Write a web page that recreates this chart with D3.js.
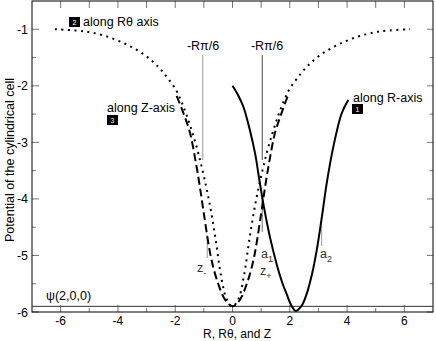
<!DOCTYPE html>
<html><head><meta charset="utf-8">
<script src="https://cdn.jsdelivr.net/npm/d3@7"></script>
<style>body{margin:0;background:#fff}text{font-family:"Liberation Sans",Arial,sans-serif}</style>
</head><body><svg id="c" width="436" height="341"></svg>
<script>
const xTicks = [-6,-4,-2,0,2,4,6];
const yTicks = [-6,-5,-4,-3,-2,-1];
// along Rθ axis (dotted)
const rthetaX = [-6.2,-5.5,-5,-4.5,-4,-3.5,-3,-2.6,-2.3,-2,-1.8,-1.6,-1.4,-1.2,-1,-0.8,-0.6,-0.4,-0.2,0,0.2,0.4,0.6,0.8,1,1.2,1.4,1.6,1.8,2,2.3,2.6,3,3.5,4,4.5,5,5.5,6.2];
const rthetaY = [-1.00,-1.02,-1.05,-1.11,-1.20,-1.32,-1.48,-1.66,-1.84,-2.05,-2.26,-2.52,-2.83,-3.18,-3.60,-4.08,-4.68,-5.36,-5.78,-5.90,-5.78,-5.36,-4.68,-4.08,-3.60,-3.18,-2.83,-2.52,-2.26,-2.05,-1.84,-1.66,-1.48,-1.32,-1.20,-1.11,-1.05,-1.02,-1.00];
// along Z-axis (dashed)
const zX = [-1.95,-1.7,-1.48,-1.3,-1.15,-1.0,-0.82,-0.7,-0.5,-0.25,0,0.25,0.5,0.7,0.82,1.0,1.15,1.3,1.48,1.7,1.93];
const zY = [-2.18,-2.50,-2.84,-3.30,-3.75,-4.26,-4.85,-5.15,-5.50,-5.79,-5.90,-5.79,-5.50,-5.15,-4.85,-4.26,-3.75,-3.30,-2.84,-2.50,-2.18];
// along R-axis (solid)
const rX = [0,0.2,0.38,0.61,0.79,0.94,1.1,1.31,1.54,1.75,1.89,2.05,2.2,2.4,2.59,2.78,2.94,3.12,3.29,3.52,3.81,4.04];
const rY = [-2.0,-2.17,-2.37,-2.79,-3.2,-3.67,-4.15,-4.68,-5.15,-5.5,-5.68,-5.88,-5.98,-5.90,-5.68,-5.32,-4.91,-4.32,-3.72,-3.08,-2.49,-2.25];
const psiLevel = -5.9;

const svg = d3.select("#c");
const L=32, R=433, T=1, B=312;
const x = d3.scaleLinear().domain([-7,7]).range([L,R]);
const y = d3.scaleLinear().domain([-6,-0.5]).range([B,T]);

const g = svg.append("g");
const tickCol="#777";
const minorX = d3.range(-7,8,1).filter(v=>v%2!==0);
const minorY = d3.range(-5.5,-0.5,1);
function tick(x1,y1,x2,y2){g.append("line").attr("x1",x1).attr("y1",y1).attr("x2",x2).attr("y2",y2).attr("stroke",tickCol).attr("stroke-width",1);}
xTicks.forEach(v=>tick(x(v),B,x(v),B-7));
minorX.forEach(v=>{if(v>-7&&v<7)tick(x(v),B,x(v),B-4);});
d3.range(-6,7,1).forEach(v=>tick(x(v),T,x(v),T+7));
yTicks.forEach(v=>{tick(L,y(v),L+7,y(v));tick(R,y(v),R-6,y(v));});
minorY.forEach(v=>{tick(L,y(v),L+4,y(v));tick(R,y(v),R-3.5,y(v));});
g.append("rect").attr("x",L).attr("y",T).attr("width",R-L).attr("height",B-T).attr("fill","none").attr("stroke","#000").attr("stroke-width",1);
xTicks.forEach(v=>g.append("text").attr("x",x(v)).attr("y",B+13).attr("text-anchor","middle").attr("font-size",12).text(v));
yTicks.forEach(v=>g.append("text").attr("x",L-4).attr("y",y(v)+4.5).attr("text-anchor","end").attr("font-size",12.5).text(v));
g.append("text").attr("x",237).attr("y",338).attr("text-anchor","middle").attr("font-size",12).text("R, Rθ, and Z");
g.append("text").attr("transform","translate(14,160) rotate(-90)").attr("text-anchor","middle").attr("font-size",12.5).text("Potential of the cylindrical cell");

g.append("line").attr("x1",L).attr("x2",R).attr("y1",y(psiLevel)).attr("y2",y(psiLevel)).attr("stroke","#333").attr("stroke-width",1);
g.append("text").attr("x",46).attr("y",y(psiLevel)-6).attr("font-size",12.5).text("ψ(2,0,0)");

function vline(xv,y1,y2,col){g.append("line").attr("x1",x(xv)).attr("x2",x(xv)).attr("y1",y1).attr("y2",y2).attr("stroke",col).attr("stroke-width",1.2);}
vline(-1.04,55,160,"#aaa");
vline(1.04,55,160,"#666");
vline(-0.88,235,258,"#aaa");
vline(1.04,195,232,"#888");
vline(3.11,226,246,"#aaa");

const line = d3.line().x(d=>x(d[0])).y(d=>y(d[1])).curve(d3.curveCatmullRom);
g.append("path").attr("d",line(d3.zip(rthetaX,rthetaY))).attr("fill","none").attr("stroke","#000").attr("stroke-width",2).attr("stroke-dasharray","2,4.5");
g.append("path").attr("d",line(d3.zip(zX,zY))).attr("fill","none").attr("stroke","#000").attr("stroke-width",2).attr("stroke-dasharray","8,4");
g.append("path").attr("d",line(d3.zip(rX,rY))).attr("fill","none").attr("stroke","#000").attr("stroke-width",2);

g.append("text").attr("x",203).attr("y",50).attr("text-anchor","middle").attr("font-size",12.5).text("-Rπ/6");
g.append("text").attr("x",267).attr("y",50).attr("text-anchor","middle").attr("font-size",12.5).text("-Rπ/6");
function sub(xp,yp,main,s){const t=g.append("text").attr("x",xp).attr("y",yp).attr("font-size",12.5).attr("fill","#333");t.append("tspan").text(main);t.append("tspan").attr("font-size",9).attr("dy",4).text(s);}
sub(261,258,"a","1");
sub(260,275,"z","+");
sub(320,258,"a","2");
sub(197,272,"z","-");
function box(xp,yp,n){g.append("rect").attr("x",xp).attr("y",yp).attr("width",11).attr("height",10).attr("fill","#000");g.append("text").attr("x",xp+5.5).attr("y",yp+8).attr("text-anchor","middle").attr("font-size",7).attr("fill","#fff").text(n);}
box(69,17,"2");
g.append("text").attr("x",83).attr("y",26).attr("font-size",12.5).text("along Rθ axis");
g.append("text").attr("x",107).attr("y",112).attr("font-size",12.5).text("along Z-axis");
box(107,115,"3");
g.append("text").attr("x",353).attr("y",102).attr("font-size",12.5).text("along R-axis");
box(352,104,"1");
</script></body></html>
